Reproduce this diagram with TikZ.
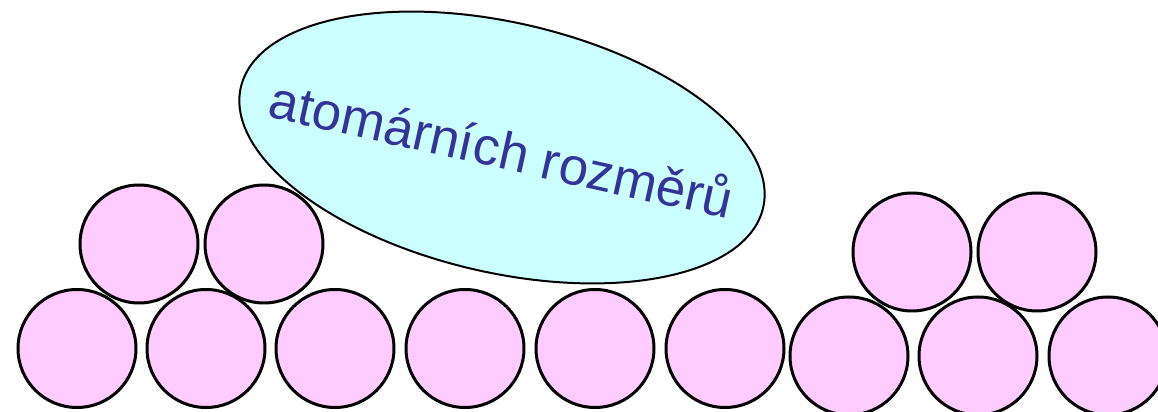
\documentclass[tikz,border=0pt]{standalone}
\usepackage{fontspec}
\setmainfont{Liberation Sans}
\usepackage{tikz}
\usetikzlibrary{shapes.geometric}
\definecolor{atompink}{HTML}{FFCCFF}
\definecolor{bubblecyan}{HTML}{CCFFFF}
\definecolor{labelblue}{HTML}{333399}
\tikzset{
    atom/.style={circle, draw, line width=1.5pt, fill=atompink, minimum size=59pt, inner sep=0pt},
    bubble/.style={ellipse, draw, line width=1pt, fill=bubblecyan, minimum width=268pt,
      minimum height=125pt, inner sep=0pt, rotate=-13},
    bubbletext/.style={rotate=-12.5, text=labelblue, inner sep=0pt,
      font=\fontsize{26.4}{30}\selectfont}
}

\begin{document}
\begin{tikzpicture}[x=0.5pt, y=0.5pt]
    \useasboundingbox (0,0) rectangle (1158,412);
    % bottom row
    \foreach \xpos [count=\i] in {77,206,335,465,595,725}
      \node[atom] (b\i) at (\xpos,63.5) {};
    \foreach \xpos [count=\i from 7] in {849,978,1108}
      \node[atom] (b\i) at (\xpos,56) {};
    % islands on top
    \node[atom] (tl1) at (139,168) {};
    \node[atom] (tl2) at (264,168) {};
    \node[atom] (tr1) at (912,160) {};
    \node[atom] (tr2) at (1037,160) {};
    \node[bubble, label={[bubbletext]center:atomárních rozměrů}] (size) at (502,264.5) {};
\end{tikzpicture}
\end{document}
